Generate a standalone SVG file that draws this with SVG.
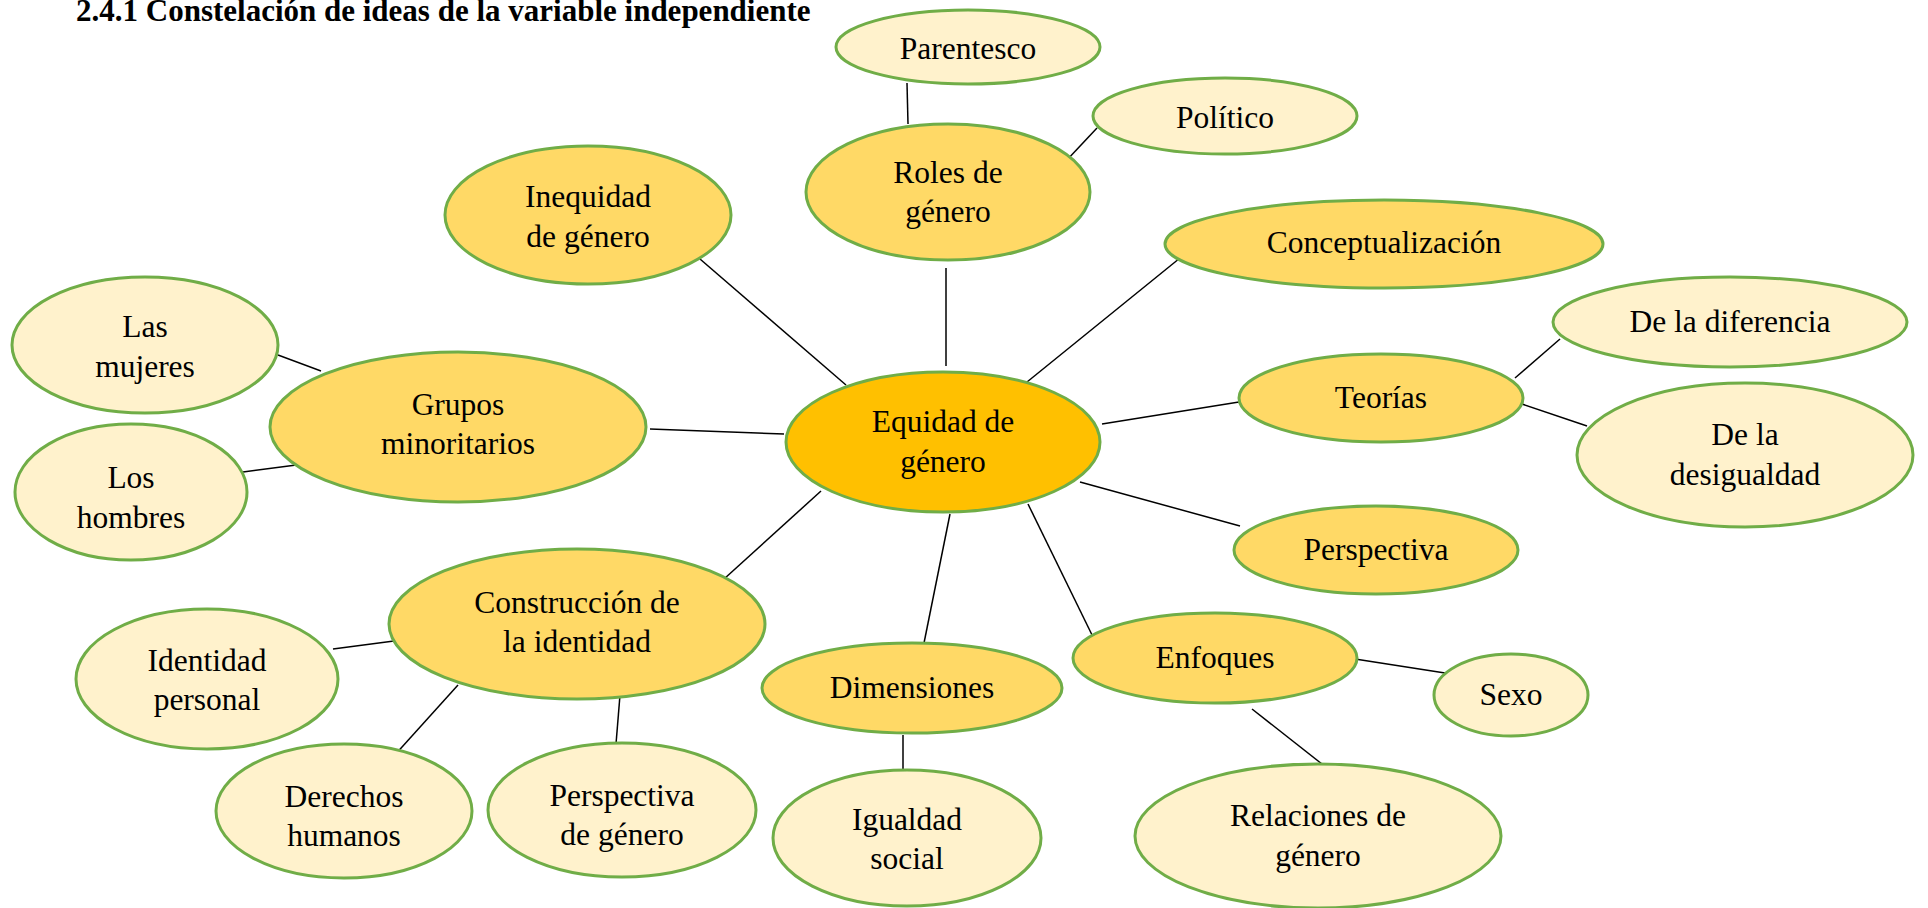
<svg xmlns="http://www.w3.org/2000/svg" width="1928" height="908" viewBox="0 0 1928 908">
<style>
.l1{fill:#FFD966;stroke:#70AD47;stroke-width:3}
.l2{fill:#FFF2CC;stroke:#70AD47;stroke-width:3}
.c{fill:#FFC000;stroke:#70AD47;stroke-width:3}
text{font-family:"Liberation Serif","Times New Roman",serif;font-size:31.5px;fill:#000;text-anchor:middle}
.title{font-weight:bold;font-size:31px;text-anchor:start}
#connectors line{stroke:#000;stroke-width:1.5}
</style>
<rect width="1928" height="908" fill="#fff"/>
<text class="title" x="76" y="21">2.4.1 Constelación de ideas de la variable independiente</text>
<g id="connectors">
<line x1="907" y1="83" x2="908" y2="124"/>
<line x1="1097" y1="128" x2="1066" y2="161"/>
<line x1="946" y1="268" x2="946" y2="366"/>
<line x1="700" y1="259" x2="846" y2="385"/>
<line x1="1180" y1="258" x2="1027" y2="382"/>
<line x1="278" y1="355" x2="321" y2="371"/>
<line x1="243" y1="472" x2="304" y2="464"/>
<line x1="650" y1="429" x2="784" y2="434"/>
<line x1="1102" y1="424" x2="1239" y2="402"/>
<line x1="1515" y1="378" x2="1560" y2="339"/>
<line x1="1522" y1="404" x2="1587" y2="426"/>
<line x1="1080" y1="482" x2="1240" y2="526"/>
<line x1="724" y1="579" x2="821" y2="491"/>
<line x1="333" y1="649" x2="394" y2="641"/>
<line x1="393" y1="757" x2="458" y2="685"/>
<line x1="616" y1="744" x2="620" y2="695"/>
<line x1="924" y1="643" x2="950" y2="514"/>
<line x1="1094" y1="639" x2="1028" y2="504"/>
<line x1="1355" y1="659" x2="1445" y2="673"/>
<line x1="1252" y1="709" x2="1322" y2="764"/>
<line x1="903" y1="735" x2="903" y2="770"/>
</g>
<g id="parentesco"><ellipse class="l2" cx="968" cy="47" rx="132" ry="37"/><text x="968" y="59">Parentesco</text></g>
<g id="politico"><ellipse class="l2" cx="1225" cy="116" rx="132" ry="38"/><text x="1225" y="128">Político</text></g>
<g id="roles"><ellipse class="l1" cx="948" cy="192" rx="142" ry="68"/><text x="948" y="183">Roles de</text><text x="948" y="222">género</text></g>
<g id="inequidad"><ellipse class="l1" cx="588" cy="215" rx="143" ry="69"/><text x="588" y="207">Inequidad</text><text x="588" y="247">de género</text></g>
<g id="conceptualizacion"><ellipse class="l1" cx="1384" cy="244" rx="219" ry="44"/><text x="1384" y="253">Conceptualización</text></g>
<g id="mujeres"><ellipse class="l2" cx="145" cy="345" rx="133" ry="68"/><text x="145" y="337">Las</text><text x="145" y="377">mujeres</text></g>
<g id="grupos"><ellipse class="l1" cx="458" cy="427" rx="188" ry="75"/><text x="458" y="415">Grupos</text><text x="458" y="454">minoritarios</text></g>
<g id="hombres"><ellipse class="l2" cx="131" cy="492" rx="116" ry="68"/><text x="131" y="488">Los</text><text x="131" y="528">hombres</text></g>
<g id="equidad"><ellipse class="c" cx="943" cy="442" rx="157" ry="70"/><text x="943" y="432">Equidad de</text><text x="943" y="472">género</text></g>
<g id="teorias"><ellipse class="l1" cx="1381" cy="398" rx="142" ry="44"/><text x="1381" y="408">Teorías</text></g>
<g id="diferencia"><ellipse class="l2" cx="1730" cy="322" rx="177" ry="45"/><text x="1730" y="332">De la diferencia</text></g>
<g id="desigualdad"><ellipse class="l2" cx="1745" cy="455" rx="168" ry="72"/><text x="1745" y="445">De la</text><text x="1745" y="485">desigualdad</text></g>
<g id="perspectiva"><ellipse class="l1" cx="1376" cy="550" rx="142" ry="44"/><text x="1376" y="560">Perspectiva</text></g>
<g id="construccion"><ellipse class="l1" cx="577" cy="624" rx="188" ry="75"/><text x="577" y="613">Construcción de</text><text x="577" y="652">la identidad</text></g>
<g id="identidad"><ellipse class="l2" cx="207" cy="679" rx="131" ry="70"/><text x="207" y="671">Identidad</text><text x="207" y="710">personal</text></g>
<g id="derechos"><ellipse class="l2" cx="344" cy="811" rx="128" ry="67"/><text x="344" y="807">Derechos</text><text x="344" y="846">humanos</text></g>
<g id="perspectiva-genero"><ellipse class="l2" cx="622" cy="810" rx="134" ry="67"/><text x="622" y="806">Perspectiva</text><text x="622" y="845">de género</text></g>
<g id="dimensiones"><ellipse class="l1" cx="912" cy="688" rx="150" ry="45"/><text x="912" y="698">Dimensiones</text></g>
<g id="enfoques"><ellipse class="l1" cx="1215" cy="658" rx="142" ry="45"/><text x="1215" y="668">Enfoques</text></g>
<g id="sexo"><ellipse class="l2" cx="1511" cy="695" rx="77" ry="41"/><text x="1511" y="705">Sexo</text></g>
<g id="igualdad"><ellipse class="l2" cx="907" cy="838" rx="134" ry="68"/><text x="907" y="830">Igualdad</text><text x="907" y="869">social</text></g>
<g id="relaciones"><ellipse class="l2" cx="1318" cy="836" rx="183" ry="72"/><text x="1318" y="826">Relaciones de</text><text x="1318" y="866">género</text></g>
</svg>
